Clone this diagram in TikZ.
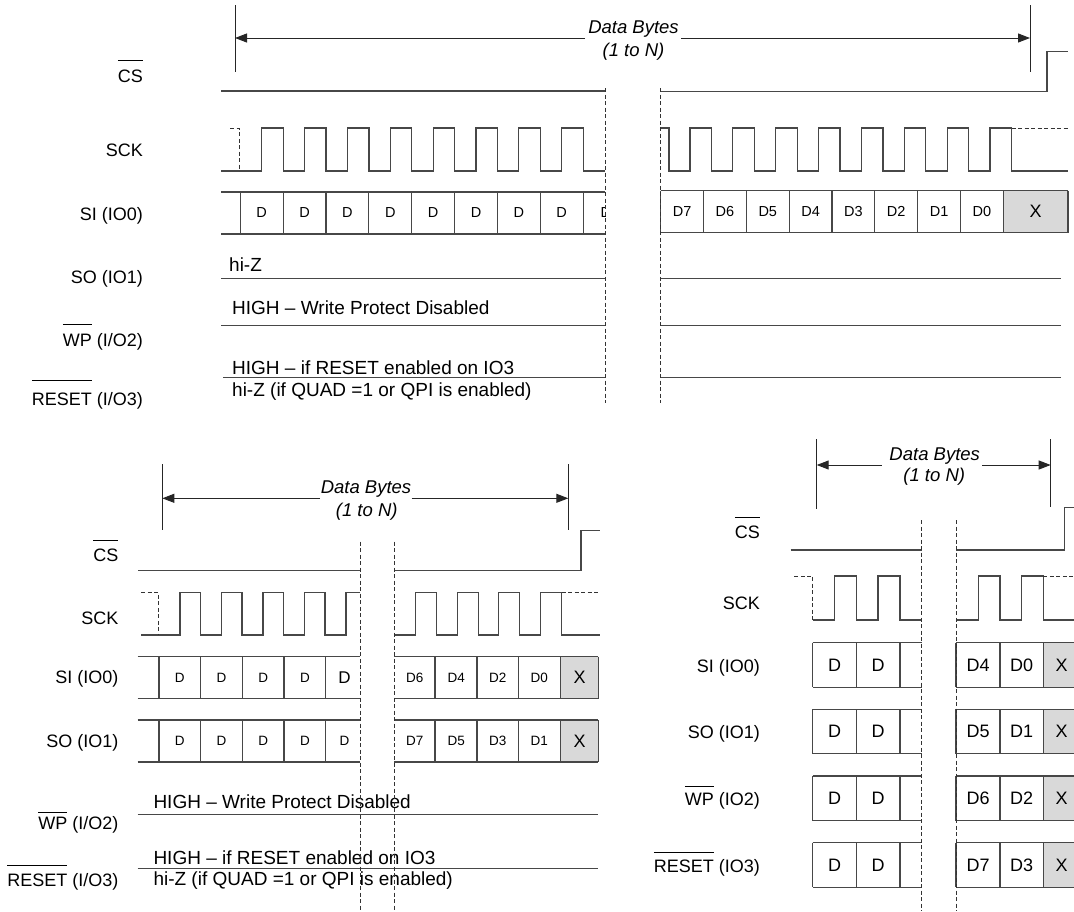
\documentclass[tikz,border=0pt]{standalone}
\usepackage{fontspec}
\setmainfont{Liberation Sans}
\usetikzlibrary{arrows.meta}
\newcommand{\ovl}[2]{\leavevmode\vbox{\hrule height 0.9pt\kern #1\hbox{#2}}}
\tikzset{
  wave/.style={line width=1.2pt, draw=black!72, line join=miter},
  dsh/.style={line width=0.9pt, draw=black!80, dash pattern=on 4pt off 2.5pt},
  brk/.style={line width=1pt, draw=black!85},
  arr/.style={line width=1pt, draw=black!85, -{Triangle[length=12pt,width=9pt]}},
  lbl/.style={anchor=base east, inner sep=0pt, font=\fontsize{18}{20}\selectfont},
  txt/.style={anchor=base west, inner sep=0pt, font=\fontsize{19}{21}\selectfont},
  ital/.style={anchor=base, inner sep=0pt, font=\fontsize{18.5}{20}\selectfont\itshape},
  cellsm/.style={inner sep=0pt, font=\fontsize{14.5}{16}\selectfont},
  cellmd/.style={inner sep=0pt, font=\fontsize{13.5}{15}\selectfont},
  cellbg/.style={inner sep=0pt, font=\fontsize{18}{20}\selectfont}
}
\begin{document}
\begin{tikzpicture}[x=1pt,y=-1pt]
\useasboundingbox (0,0) rectangle (1074,911);
% ================= TOP PANEL =================
\draw[brk] (235,5) -- (235,72);
\draw[brk] (1030,5) -- (1030,72);
\coordinate (t1a) at (585,38); \coordinate (t1b) at (235,38);
\coordinate (t1c) at (681,38); \coordinate (t1d) at (1030,38);
\draw[arr] (t1a) -- (t1b);
\draw[arr] (t1c) -- (t1d);
\node[ital] (tdb) at (633.5,33) {Data Bytes};
\node[ital] (tdn) at (633.5,56) {(1 to N)};
% labels
\node[lbl] (tlcs) at (143,82) {\ovl{9pt}{CS}};
\node[lbl] (tlsck) at (143,156) {SCK};
\node[lbl] (tlsi) at (143,220) {SI (IO0)};
\node[lbl] (tlso) at (143,283) {SO (IO1)};
\node[lbl] (tlwp) at (143,346) {\ovl{9pt}{WP} (I/O2)};
\node[lbl] (tlrs) at (143,405) {\ovl{12pt}{RESET} (I/O3)};
% CS
\draw[wave] (221,91) -- (605.3,91);
\draw[wave] (660.7,91.7) -- (1047,91.7) -- (1047,51.7) -- (1068,51.7);
% SCK
\draw[wave] (221,171) \foreach \k in {0,...,7}{ -- ({261.7+42.86*\k},171) -- ({261.7+42.86*\k},128) -- ({283.2+42.86*\k},128) -- ({283.2+42.86*\k},171)} -- (605.3,171);
\draw[dsh] (230,128) -- (239,128) -- (239,171);
\draw[wave] (660.7,128) -- (669,128) -- (669,171) \foreach \k in {0,...,7}{ -- ({690+42.86*\k},171) -- ({690+42.86*\k},128) -- ({711.5+42.86*\k},128) -- ({711.5+42.86*\k},171)} -- (1068,171);
\draw[dsh] (1011.7,128) -- (1068,128);
% SI left
\draw[wave] (221,192) -- (605.3,192);
\draw[wave] (221,234) -- (605.3,234);
\foreach \j in {0,...,8}{ \draw[wave] ({240.3+42.86*\j},192) -- ({240.3+42.86*\j},234); }
\foreach \j in {0,...,7}{ \node[cellsm] (tsd\j) at ({261.7+42.86*\j},213) {D}; }
\begin{scope}
\clip (583,190) rectangle (605.3,236);
\node[cellsm, anchor=west] (tsdp) at (600.5,213) {D};
\end{scope}
% SI right
\fill[black!15] (1003.3,190.5) rectangle (1068,232.5);
\draw[wave] (660.7,190.5) -- (1068,190.5);
\draw[wave] (660.7,232.5) -- (1068,232.5);
\foreach \j in {0,...,8}{ \draw[wave] ({660.7+42.83*\j},190.5) -- ({660.7+42.83*\j},232.5); }
\draw[wave] (1068,190.5) -- (1068,232.5);
\foreach \l [count=\j from 0] in {D7,D6,D5,D4,D3,D2,D1,D0}{ \node[cellsm] (tsr\j) at ({682.1+42.83*\j},211.5) {\l}; }
\node[cellbg] (tsx) at (1035.6,211.5) {X};
% SO / WP / RESET
\node[txt] (thiz) at (229,271) {hi-Z};
\draw[wave] (221,278.3) -- (605.3,278.3);
\draw[wave] (660.7,278.3) -- (1061,278.3);
\node[txt] (twp) at (232,314.7) {HIGH -- Write Protect Disabled};
\draw[wave] (221,325.3) -- (605.3,325.3);
\draw[wave] (660.7,325.3) -- (1061,325.3);
\node[txt] (trs1) at (232,374.5) {HIGH -- if RESET enabled on IO3};
\draw[wave] (223,377.7) -- (605.3,377.7);
\draw[wave] (660.7,377.7) -- (1061,377.7);
\node[txt] (trs2) at (232,396.5) {hi-Z (if QUAD =1 or QPI is enabled)};
% gap
\draw[dsh] (605.3,88) -- (605.3,403);
\draw[dsh] (660.7,88) -- (660.7,403);
% ================= BOTTOM LEFT =================
\draw[brk] (162.3,464) -- (162.3,530);
\draw[brk] (568.3,464) -- (568.3,530);
\coordinate (l1a) at (320,498.3); \coordinate (l1b) at (162.3,498.3);
\coordinate (l1c) at (411.7,498.3); \coordinate (l1d) at (568.3,498.3);
\draw[arr] (l1a) -- (l1b);
\draw[arr] (l1c) -- (l1d);
\node[ital] (ldb) at (366,493) {Data Bytes};
\node[ital] (ldn) at (366.7,516) {(1 to N)};
\node[lbl] (llcs) at (118.5,561) {\ovl{8pt}{CS}};
\node[lbl] (llsck) at (118.5,624.7) {SCK};
\node[lbl] (llsi) at (118.5,683.5) {SI (IO0)};
\node[lbl] (llso) at (118.5,747.5) {SO (IO1)};
\node[lbl] (llwp) at (118.5,829) {\ovl{4pt}{WP} (I/O2)};
\node[lbl] (llrs) at (118.5,886) {\ovl{8pt}{RESET} (I/O3)};
% CS
\draw[wave] (138.3,570.7) -- (360,570.7);
\draw[wave] (394.3,570.7) -- (581,570.7) -- (581,530.7) -- (600,530.7);
% SCK
\draw[wave] (141,635) \foreach \r in {180,221.5,263,304.5}{ -- (\r,635) -- (\r,592.7) -- ({\r+20.5},592.7) -- ({\r+20.5},635)} -- (346,635) -- (346,592.7) -- (360,592.7);
\draw[dsh] (141,592.7) -- (158.3,592.7) -- (158.3,635);
\draw[wave] (394.3,635) \foreach \r in {415.7,457.3,498.7,540.7}{ -- (\r,635) -- (\r,592.7) -- ({\r+21},592.7) -- ({\r+21},635)} -- (600,635);
\draw[dsh] (561.7,592.7) -- (600,592.7);
% SI / SO rows
\foreach \t/\b/\nm in {656.7/698.5/si,720/762/so}{
  \draw[wave] (137.7,\t) -- (360,\t);
  \draw[wave] (137.7,\b) -- (360,\b);
  \foreach \x in {159,200.5,242.3,284,325.7}{ \draw[wave] (\x,\t) -- (\x,\b); }
  \foreach \x [count=\i] in {179.8,221.4,263.2,304.9}{ \node[cellmd] (lc\nm\i) at (\x,{(\t+\b)/2}) {D}; }
  \fill[black!15] (560.7,\t) rectangle (598.3,\b);
  \draw[wave] (394.3,\t) -- (598.3,\t);
  \draw[wave] (394.3,\b) -- (598.3,\b);
  \foreach \x in {435,477,518.7,560.7,598.3}{ \draw[wave] (\x,\t) -- (\x,\b); }
  \node[cellbg] (lx\nm) at (579.5,{(\t+\b)/2}) {X};
}
\node[cellbg, font=\fontsize{17}{19}\selectfont] (lcsi5) at (344.5,677.6) {D};
\node[cellmd] (lcso5) at (344.5,741) {D};
\foreach \l [count=\i] in {D6,D4,D2,D0}{ \node[cellmd] (lrsi\i) at ({414.7+41.5*(\i-1)},677.6) {\l}; }
\foreach \l [count=\i] in {D7,D5,D3,D1}{ \node[cellmd] (lrso\i) at ({414.7+41.5*(\i-1)},741) {\l}; }
% WP / RESET
\draw[wave] (137.7,814.3) -- (598.3,814.3);
\draw[wave] (137.7,868.3) -- (598.3,868.3);
\node[txt] (lwp) at (153.3,808.3) {HIGH -- Write Protect Disabled};
\node[txt] (lrs1) at (153.3,864.5) {HIGH -- if RESET enabled on IO3};
\node[txt] (lrs2) at (153.3,885.5) {hi-Z (if QUAD =1 or QPI is enabled)};
\draw[dsh] (360,541.7) -- (360,911);
\draw[dsh] (394.3,541.7) -- (394.3,911);
% ================= BOTTOM RIGHT =================
\draw[brk] (816.7,439.3) -- (816.7,509.3);
\draw[brk] (1050.7,439.3) -- (1050.7,506.7);
\coordinate (r1a) at (881.7,465); \coordinate (r1b) at (816.7,465);
\coordinate (r1c) at (982,465); \coordinate (r1d) at (1050.7,465);
\draw[arr] (r1a) -- (r1b);
\draw[arr] (r1c) -- (r1d);
\node[ital] (rdb) at (934.7,460.4) {Data Bytes};
\node[ital] (rdn) at (934.2,481.4) {(1 to N)};
\node[lbl] (rlcs) at (760,538) {\ovl{8pt}{CS}};
\node[lbl] (rlsck) at (760,609.6) {SCK};
\node[lbl] (rlsi) at (760,672) {SI (IO0)};
\node[lbl] (rlso) at (760,738.5) {SO (IO1)};
\node[lbl] (rlwp) at (760,805) {\ovl{6pt}{WP} (IO2)};
\node[lbl] (rlrs) at (760,872) {\ovl{7pt}{RESET} (IO3)};
% CS
\draw[wave] (790.7,550) -- (921.7,550);
\draw[wave] (956,550) -- (1064.3,550) -- (1064.3,507.7) -- (1074,507.7);
% SCK
\draw[dsh] (794.3,576) -- (812.7,576) -- (812.7,620);
\draw[wave] (812.7,620) -- (834.7,620) -- (834.7,576) -- (856.7,576) -- (856.7,620) -- (878,620) -- (878,576) -- (900,576) -- (900,620) -- (921.7,620);
\draw[wave] (956,620) -- (978.3,620) -- (978.3,576) -- (1000,576) -- (1000,620) -- (1021.7,620) -- (1021.7,576) -- (1043.3,576) -- (1043.3,620) -- (1074,620);
\draw[dsh] (1043.3,576) -- (1074,576);
% rows
\foreach \t/\a/\c/\nm in {642.7/D4/D0/si, 709.3/D5/D1/so, 776/D6/D2/wp, 842.7/D7/D3/rs}{
  \draw[wave] (812.7,\t) -- (921.7,\t);
  \draw[wave] (812.7,{\t+44.5}) -- (921.7,{\t+44.5});
  \foreach \x in {812.7,856.3,900}{ \draw[wave] (\x,\t) -- (\x,{\t+44.5}); }
  \node[cellbg] (rd1\nm) at (834.5,{\t+22.2}) {D};
  \node[cellbg] (rd2\nm) at (878.2,{\t+22.2}) {D};
  \fill[black!15] (1043.3,\t) rectangle (1074,{\t+44.5});
  \draw[wave] (956,\t) -- (1074,\t);
  \draw[wave] (956,{\t+44.5}) -- (1074,{\t+44.5});
  \foreach \x in {956,1000,1043.3}{ \draw[wave] (\x,\t) -- (\x,{\t+44.5}); }
  \node[cellbg] (rr1\nm) at (978.2,{\t+22.2}) {\a};
  \node[cellbg] (rr2\nm) at (1021.7,{\t+22.2}) {\c};
  \node[cellbg] (rx\nm) at (1061.7,{\t+22.2}) {X};
}
\draw[dsh] (921.7,520) -- (921.7,911);
\draw[dsh] (956,520) -- (956,911);
\end{tikzpicture}
\end{document}
